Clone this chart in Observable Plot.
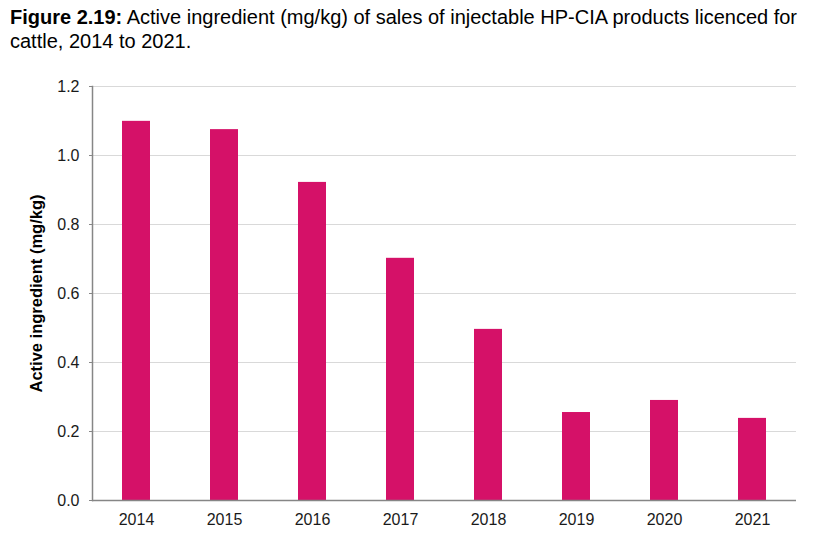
<!DOCTYPE html>
<html>
<head>
<meta charset="utf-8">
<script src="https://cdn.jsdelivr.net/npm/d3@7"></script>
<script src="https://cdn.jsdelivr.net/npm/@observablehq/plot@0.6"></script>
<style>
  body { margin: 0; background: #fff; font-family: "Liberation Sans", Arial, sans-serif; }
  #title { height: 62px; box-sizing: border-box; padding: 5px 0 0 10px; font-size: 20px; line-height: 24px; color: #000; white-space: nowrap; }
  #chart svg { display: block; }
</style>
</head>
<body>
<div id="title"><b>Figure 2.19:</b> Active ingredient (mg/kg) of sales of injectable HP-CIA products licenced for<br>cattle, 2014 to 2021.</div>
<div id="chart"></div>
<script>
const years = ["2014", "2015", "2016", "2017", "2018", "2019", "2020", "2021"];
const values = [1.099, 1.075, 0.922, 0.702, 0.496, 0.255, 0.290, 0.238];
const yTicks = [0, 0.2, 0.4, 0.6, 0.8, 1.0, 1.2];

const data = years.map((y, i) => ({year: y, value: values[i]}));

const chart = Plot.plot({
  width: 827,
  height: 476,
  marginTop: 24,
  marginBottom: 38,
  marginLeft: 92,
  marginRight: 31,
  style: {fontFamily: "Liberation Sans, Arial, sans-serif", fontSize: "16px", color: "#1a1a1a", background: "#fff"},
  x: {domain: years, paddingInner: 0.68, paddingOuter: 0.34, label: null},
  y: {domain: [0, 1.2], ticks: yTicks, tickFormat: d3.format(".1f"), label: "Active ingredient (mg/kg)", labelAnchor: "center", labelArrow: "none"},
  marks: [
    Plot.gridY(yTicks.filter(d => d > 0), {stroke: "#d9d9d9", strokeOpacity: 1}),
    Plot.barY(data, {x: "year", y: "value", fill: "#d51168"}),
    Plot.axisY({ticks: yTicks, tickFormat: d3.format(".1f"), tickSize: 3, tickPadding: 10, stroke: "#868686", label: "Active ingredient (mg/kg)", labelAnchor: "center", labelArrow: "none", labelOffset: 62, fontSize: 16}),
    Plot.frame({anchor: "left", stroke: "#868686", strokeWidth: 1.5}),
    Plot.ruleY([0], {stroke: "#868686", strokeWidth: 1.5}),
    Plot.axisX({tickSize: 0, tickPadding: 13, fontSize: 16, label: null})
  ]
});
chart.querySelectorAll("g[aria-label='y-axis label'] text, g[aria-label='y-axis label']").forEach(el => {
  el.setAttribute("font-weight", "bold");
  el.setAttribute("font-size", "16.5px");
  el.setAttribute("fill", "#000");
});
document.getElementById("chart").appendChild(chart);
</script>
</body>
</html>
